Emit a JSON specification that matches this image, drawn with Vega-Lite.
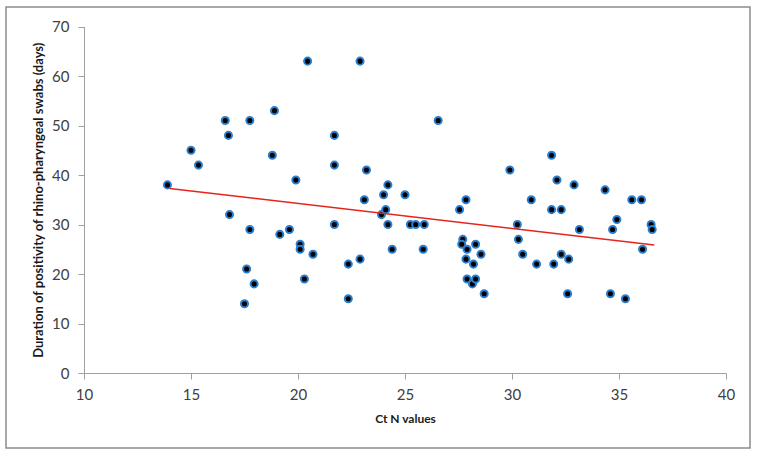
{
  "$schema": "https://vega.github.io/schema/vega-lite/v6.json",
  "autosize": "none",
  "width": 744,
  "height": 441,
  "padding": {"left": 6, "top": 7, "right": 7, "bottom": 12},
  "background": "white",
  "config": {
    "view": {"stroke": "#8c8c8c", "strokeWidth": 1.5},
    "font": "Lato",
    "axis": {
      "grid": false,
      "domainColor": "#a0a0a0",
      "tickColor": "#a0a0a0",
      "tickSize": 6,
      "labelFont": "Lato",
      "labelFontSize": 15,
      "labelColor": "#404040",
      "labelFlush": false,
      "titleFont": "Lato",
      "titleFontSize": 12,
      "titleFontWeight": "bold",
      "titleColor": "#1a1a1a"
    }
  },
  "data": {
    "values": [
      {"ct": 13.9, "days": 38}, {"ct": 15.0, "days": 45}, {"ct": 15.35, "days": 42},
      {"ct": 16.6, "days": 51}, {"ct": 16.75, "days": 48}, {"ct": 16.8, "days": 32},
      {"ct": 17.75, "days": 51}, {"ct": 17.75, "days": 29}, {"ct": 17.6, "days": 21},
      {"ct": 17.5, "days": 14}, {"ct": 17.95, "days": 18}, {"ct": 18.8, "days": 44},
      {"ct": 18.9, "days": 53}, {"ct": 19.15, "days": 28}, {"ct": 19.6, "days": 29},
      {"ct": 19.9, "days": 39}, {"ct": 20.1, "days": 26}, {"ct": 20.1, "days": 25},
      {"ct": 20.3, "days": 19}, {"ct": 20.45, "days": 63}, {"ct": 20.7, "days": 24},
      {"ct": 21.7, "days": 48}, {"ct": 21.7, "days": 42}, {"ct": 21.7, "days": 30},
      {"ct": 22.35, "days": 22}, {"ct": 22.35, "days": 15}, {"ct": 22.9, "days": 63},
      {"ct": 22.9, "days": 23}, {"ct": 23.1, "days": 35}, {"ct": 23.2, "days": 41},
      {"ct": 23.9, "days": 32}, {"ct": 24.0, "days": 36}, {"ct": 24.1, "days": 33},
      {"ct": 24.2, "days": 38}, {"ct": 24.2, "days": 30}, {"ct": 24.4, "days": 25},
      {"ct": 25.0, "days": 36}, {"ct": 25.25, "days": 30}, {"ct": 25.5, "days": 30},
      {"ct": 25.9, "days": 30}, {"ct": 25.85, "days": 25}, {"ct": 26.55, "days": 51},
      {"ct": 27.55, "days": 33}, {"ct": 27.7, "days": 27}, {"ct": 27.65, "days": 26},
      {"ct": 27.85, "days": 35}, {"ct": 27.9, "days": 25}, {"ct": 27.85, "days": 23},
      {"ct": 27.9, "days": 19}, {"ct": 28.2, "days": 22}, {"ct": 28.15, "days": 18},
      {"ct": 28.3, "days": 26}, {"ct": 28.3, "days": 19}, {"ct": 28.55, "days": 24},
      {"ct": 28.7, "days": 16}, {"ct": 29.9, "days": 41}, {"ct": 30.25, "days": 30},
      {"ct": 30.3, "days": 27}, {"ct": 30.5, "days": 24}, {"ct": 30.9, "days": 35},
      {"ct": 31.15, "days": 22}, {"ct": 31.85, "days": 44}, {"ct": 31.85, "days": 33},
      {"ct": 31.95, "days": 22}, {"ct": 32.1, "days": 39}, {"ct": 32.3, "days": 33},
      {"ct": 32.3, "days": 24}, {"ct": 32.65, "days": 23}, {"ct": 32.6, "days": 16},
      {"ct": 32.9, "days": 38}, {"ct": 33.15, "days": 29}, {"ct": 34.35, "days": 37},
      {"ct": 34.6, "days": 16}, {"ct": 34.7, "days": 29}, {"ct": 34.9, "days": 31},
      {"ct": 35.3, "days": 15}, {"ct": 35.6, "days": 35}, {"ct": 36.05, "days": 35},
      {"ct": 36.1, "days": 25}, {"ct": 36.5, "days": 30}, {"ct": 36.55, "days": 29}
    ]
  },
  "encoding": {
    "x": {
      "field": "ct", "type": "quantitative",
      "scale": {"domain": [10, 40], "range": [78, 720], "nice": false, "zero": false},
      "axis": {"title": "Ct N values", "values": [10, 15, 20, 25, 30, 35, 40], "offset": -75, "labelPadding": 8, "titlePadding": 11}
    },
    "y": {
      "field": "days", "type": "quantitative",
      "scale": {"domain": [0, 70], "range": [366, 19.5], "nice": false, "zero": false},
      "axis": {"title": "Duration of positivity of rhino-pharyngeal swabs (days)", "titleFontSize": 13, "values": [0, 10, 20, 30, 40, 50, 60, 70], "offset": -78, "labelPadding": 9, "titlePadding": 6}
    }
  },
  "layer": [
    {
      "mark": {"type": "circle", "size": 50, "fill": "black", "opacity": 1, "stroke": "#2a7fd0", "strokeWidth": 2}
    },
    {
      "transform": [{"regression": "days", "on": "ct", "extent": [14, 36.65]}],
      "mark": {"type": "line", "color": "#e8231c", "strokeWidth": 1.5}
    }
  ]
}
